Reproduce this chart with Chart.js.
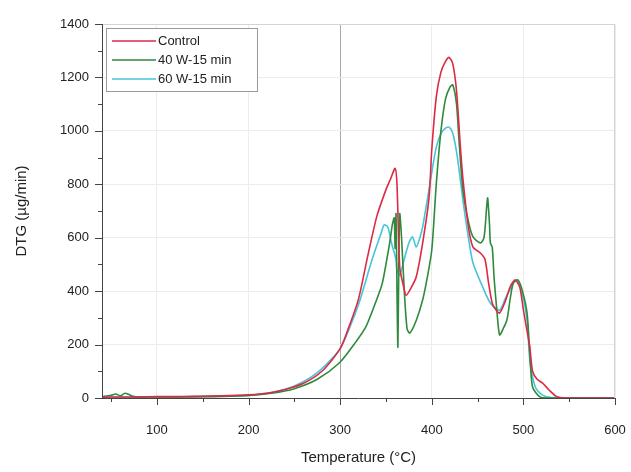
<!DOCTYPE html>
<html>
<head>
<meta charset="utf-8">
<script src="https://cdn.jsdelivr.net/npm/chart.js@4.4.1/dist/chart.umd.min.js"></script>
<style>
  html, body { margin: 0; padding: 0; background: #fff; }
  #wrap { width: 631px; height: 472px; }
</style>
</head>
<body>
<div id="wrap"><canvas id="dtgChart" width="631" height="472"></canvas></div>
<script>
// DTG curves, temperature (°C) vs mass loss rate (µg/min)
const seriesNames = ['Control', '40 W-15 min', '60 W-15 min'];
const seriesColors = ['#dc2a44', '#2e8a3c', '#47c3da'];

const tempControl = [40, 60, 80, 100, 120, 140, 160, 180, 200, 220, 240, 260, 280, 300, 310, 320, 330, 340, 350, 355, 360,
  362, 365, 369, 372, 377, 383, 390, 397, 400, 405, 410, 415, 419, 423, 427, 431, 434, 440, 445, 453, 458, 462, 466, 470,
  474, 480, 486, 491, 496, 500, 504, 507, 510, 515, 521, 528, 536, 545, 600];
const dtgControl = [3, 4, 4, 5, 5, 6, 7, 9, 12, 18, 32, 55, 100, 185, 270, 370, 530, 680, 780, 820, 860,
  800, 490, 420, 385, 410, 453, 580, 750, 930, 1130, 1220, 1260, 1275, 1250, 1150, 950, 820, 640, 565, 543, 520, 430, 355, 330,
  318, 360, 420, 442, 415, 330, 250, 191, 100, 70, 56, 30, 6, 0, 0];

const temp40W = [40, 50, 55, 60, 65, 70, 75, 100, 150, 200, 225, 250, 275, 299, 315, 328, 340, 346, 354, 357, 359, 360,
  361, 362, 363, 364, 365, 367, 370, 373, 376, 383, 390, 395, 400, 405, 410, 415, 420, 423, 427, 430, 434, 440, 445, 453,
  457, 460, 461, 463, 464, 466, 468, 471, 474, 478, 482, 486, 489, 494, 499, 504, 507, 510, 518, 525, 600];
const dtg40W = [5, 10, 15, 8, 18, 12, 5, 4, 5, 10, 18, 35, 70, 131, 200, 266, 370, 430, 580, 650, 674, 560,
  690, 400, 190, 500, 690, 600, 400, 260, 243, 290, 367, 450, 554, 805, 1000, 1120, 1165, 1172, 1100, 950, 778, 660, 603, 580,
  600, 720, 749, 650, 580, 565, 450, 329, 236, 260, 292, 380, 430, 442, 400, 318, 168, 41, 4, 0, 0];

const temp60W = [40, 100, 150, 200, 225, 250, 275, 299, 310, 321, 335, 345, 348, 352, 356, 361, 362, 365, 370, 375, 379,
  383, 387, 390, 395, 401, 405, 410, 415, 419, 423, 428, 434, 440, 445, 455, 464, 474, 480, 485, 492, 498, 504, 507, 513,
  521, 530, 600];
const dtg60W = [2, 3, 5, 10, 20, 45, 95, 180, 260, 360, 520, 620, 648, 640, 580, 517, 479, 460, 520, 580, 603,
  565, 600, 640, 740, 865, 940, 990, 1010, 1014, 990, 900, 741, 600, 505, 420, 355, 329, 370, 404, 442, 400, 292, 142, 41,
  11, 2, 0];

const xTicks = [100, 200, 300, 400, 500, 600];
const yTicks = [0, 200, 400, 600, 800, 1000, 1200, 1400];

const zip = (xs, ys) => xs.map((x, i) => ({ x: x, y: ys[i] }));
const temps = [tempControl, temp40W, temp60W];
const dtgs = [dtgControl, dtg40W, dtg60W];

const FONT = "'Liberation Sans', Arial, sans-serif";

// outward major/minor ticks and the frame around the plot
const axisDecor = {
  id: 'axisDecor',
  afterDraw(chart) {
    const { ctx, chartArea: a, scales } = chart;
    const xs = scales.x, ys = scales.y;
    ctx.save();
    ctx.lineWidth = 1;
    ctx.strokeStyle = '#d4d4d4';
    ctx.beginPath();
    ctx.moveTo(a.left, a.top + 0.5); ctx.lineTo(a.right, a.top + 0.5);
    ctx.moveTo(a.right - 0.5, a.top); ctx.lineTo(a.right - 0.5, a.bottom);
    ctx.stroke();
    ctx.strokeStyle = '#444';
    ctx.beginPath();
    ctx.moveTo(a.left + 0.5, a.top); ctx.lineTo(a.left + 0.5, a.bottom);
    ctx.moveTo(a.left, a.bottom + 0.5); ctx.lineTo(a.right, a.bottom + 0.5);
    for (let v = 50; v <= 600; v += 50) {
      const px = Math.round(xs.getPixelForValue(v)) + 0.5;
      const len = v % 100 === 0 ? 7 : 4;
      ctx.moveTo(px, a.bottom); ctx.lineTo(px, a.bottom + len);
    }
    for (let v = 0; v <= 1400; v += 100) {
      const py = Math.round(ys.getPixelForValue(v)) + 0.5;
      const len = v % 200 === 0 ? 7 : 4;
      ctx.moveTo(a.left, py); ctx.lineTo(a.left - len, py);
    }
    ctx.stroke();
    ctx.restore();
  }
};

// boxed legend in the upper left of the plot
const boxLegend = {
  id: 'boxLegend',
  afterDatasetsDraw(chart) {
    const { ctx, chartArea: a } = chart;
    const x0 = a.left + 4, y0 = a.top + 4;
    const w = 151, rowH = 19;
    const h = chart.data.datasets.length * rowH + 6;
    ctx.save();
    ctx.fillStyle = '#fff';
    ctx.fillRect(x0, y0, w, h);
    ctx.strokeStyle = '#9a9a9a';
    ctx.lineWidth = 1;
    ctx.strokeRect(x0 + 0.5, y0 + 0.5, w, h);
    ctx.font = '13px ' + FONT;
    ctx.textBaseline = 'middle';
    chart.data.datasets.forEach((ds, i) => {
      const cy = y0 + 13 + i * rowH;
      ctx.strokeStyle = ds.borderColor;
      ctx.lineWidth = 1.6;
      ctx.beginPath();
      ctx.moveTo(x0 + 6, cy); ctx.lineTo(x0 + 50, cy);
      ctx.stroke();
      ctx.fillStyle = '#222';
      ctx.fillText(ds.label, x0 + 52, cy);
    });
    ctx.restore();
  }
};

new Chart(document.getElementById('dtgChart'), {
  type: 'line',
  data: {
    datasets: seriesNames.map((name, i) => ({
      label: name,
      data: zip(temps[i], dtgs[i]),
      borderColor: seriesColors[i],
      backgroundColor: seriesColors[i],
      borderWidth: 1.6,
      pointRadius: 0,
      tension: 0.25,
      fill: false
    }))
  },
  options: {
    responsive: false,
    animation: false,
    layout: { padding: { top: 24, right: 16, left: 0, bottom: 0 } },
    plugins: { legend: { display: false }, tooltip: { enabled: false } },
    scales: {
      x: {
        type: 'linear',
        min: 40,
        max: 600,
        afterBuildTicks: (s) => { s.ticks = xTicks.map(v => ({ value: v })); },
        afterFit: (s) => { s.height = 74; s.paddingLeft = 0; s.paddingRight = 0; },
        grid: {
          drawTicks: false,
          color: (c) => c.tick && c.tick.value === 300 ? '#a8a8a8' : '#ececec'
        },
        border: { display: false },
        ticks: { padding: 25, color: '#222', font: { family: FONT, size: 13 } },
        title: {
          display: true, text: 'Temperature (°C)', color: '#222',
          font: { family: FONT, size: 15 }, padding: { top: 0, bottom: 5 }
        }
      },
      y: {
        min: 0,
        max: 1400,
        afterBuildTicks: (s) => { s.ticks = yTicks.map(v => ({ value: v })); },
        afterFit: (s) => { s.width = 102; s.paddingTop = 0; s.paddingBottom = 0; },
        grid: { drawTicks: false, color: '#ececec' },
        border: { display: false },
        ticks: {
          padding: 13, color: '#222', font: { family: FONT, size: 13 },
          callback: (v) => String(v)
        },
        title: {
          display: true, text: 'DTG (µg/min)', color: '#222',
          font: { family: FONT, size: 15 }, padding: { top: 13, bottom: 0 }
        }
      }
    }
  },
  plugins: [axisDecor, boxLegend]
});
</script>
</body>
</html>
